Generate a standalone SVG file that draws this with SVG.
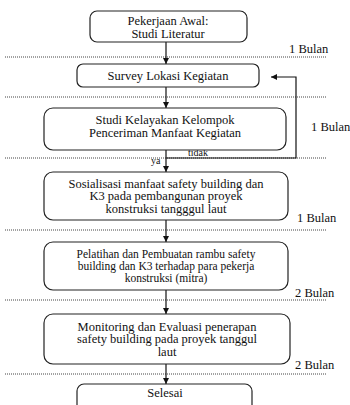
<svg xmlns="http://www.w3.org/2000/svg" width="350" height="405" viewBox="0 0 350 405">
<style>
.box{fill:#fff;stroke:#222;stroke-width:1.2}
text{font-family:"Liberation Serif","DejaVu Serif","Times New Roman",serif}
.t{font-size:12.5px;fill:#111;text-anchor:middle}
.lbl{font-size:12.5px;fill:#111}
.sm{font-size:10px;fill:#111}
.dot{stroke:#444;stroke-width:1;stroke-dasharray:1,1;fill:none}
.c{stroke:#111;stroke-width:1.2;fill:none}
</style>
<defs>
<marker id="ah" viewBox="0 0 10 10" refX="10" refY="5" markerWidth="6" markerHeight="6" markerUnits="userSpaceOnUse" orient="auto"><path d="M0,0 L10,5 L0,10 z" fill="#111"/></marker>
</defs>
<g id="dividers">
<line class="dot" x1="5" y1="57" x2="327" y2="57"/>
<line class="dot" x1="5" y1="97" x2="327" y2="97"/>
<line class="dot" x1="5" y1="158" x2="327" y2="158"/>
<line class="dot" x1="5" y1="230" x2="327" y2="230"/>
<line class="dot" x1="5" y1="300" x2="327" y2="300"/>
<line class="dot" x1="5" y1="374" x2="327" y2="374"/>
</g>
<g id="durations" font-family="Liberation Serif, serif">
<text class="lbl" x="289" y="53">1 Bulan</text>
<text class="lbl" x="311" y="131">1 Bulan</text>
<text class="lbl" x="297" y="222">1 Bulan</text>
<text class="lbl" x="295" y="297">2 Bulan</text>
<text class="lbl" x="295" y="369">2 Bulan</text>
</g>
<g id="connectors">
<line class="c" x1="166" y1="42" x2="166" y2="64" marker-end="url(#ah)"/>
<line class="c" x1="166" y1="87" x2="166" y2="108" marker-end="url(#ah)"/>
<line class="c" x1="166" y1="150" x2="166" y2="172" marker-end="url(#ah)"/>
<line class="c" x1="166" y1="220" x2="166" y2="242" marker-end="url(#ah)"/>
<line class="c" x1="166" y1="290" x2="166" y2="314" marker-end="url(#ah)"/>
<line class="c" x1="166" y1="364" x2="166" y2="384" marker-end="url(#ah)"/>
<polyline class="c" points="166,158 296,158 296,77 271,77" marker-end="url(#ah)"/>
<text class="sm" x="188" y="156">tidak</text>
<text class="sm" x="151" y="164">ya</text>
</g>
<g id="n1">
<rect class="box" x="90" y="11" width="157" height="31" rx="7"/>
<text class="t" x="168" y="25">Pekerjaan Awal:</text>
<text class="t" x="168" y="38">Studi Literatur</text>
</g>
<g id="n2">
<rect class="box" x="77" y="64" width="182" height="23" rx="6"/>
<text class="t" x="168" y="79.5">Survey Lokasi Kegiatan</text>
</g>
<g id="n3">
<rect class="box" x="44" y="108" width="242" height="42" rx="9"/>
<text class="t" x="165" y="124">Studi Kelayakan Kelompok</text>
<text class="t" x="165" y="137">Penceriman Manfaat Kegiatan</text>
</g>
<g id="n4">
<rect class="box" x="44" y="172" width="244" height="48" rx="9"/>
<text class="t" x="166" y="187.5">Sosialisasi manfaat safety building dan</text>
<text class="t" x="166" y="200">K3 pada pembangunan proyek</text>
<text class="t" x="166" y="212.5">konstruksi tangggul laut</text>
</g>
<g id="n5">
<rect class="box" x="44" y="242" width="244" height="48" rx="9"/>
<text class="t" x="166" y="257.5" style="font-size:11.5px">Pelatihan dan Pembuatan rambu safety</text>
<text class="t" x="166" y="269.5" style="font-size:11.5px">building dan K3 terhadap para pekerja</text>
<text class="t" x="166" y="281.5" style="font-size:11.5px">konstruksi (mitra)</text>
</g>
<g id="n6">
<rect class="box" x="44" y="314" width="246" height="50" rx="9"/>
<text class="t" x="167" y="330.5">Monitoring dan Evaluasi penerapan</text>
<text class="t" x="167" y="343">safety building pada proyek tanggul</text>
<text class="t" x="167" y="355.5">laut</text>
</g>
<g id="n7">
<rect class="box" x="77" y="384" width="175" height="30" rx="7"/>
<text class="t" x="165" y="397">Selesai</text>
</g>
</svg>
